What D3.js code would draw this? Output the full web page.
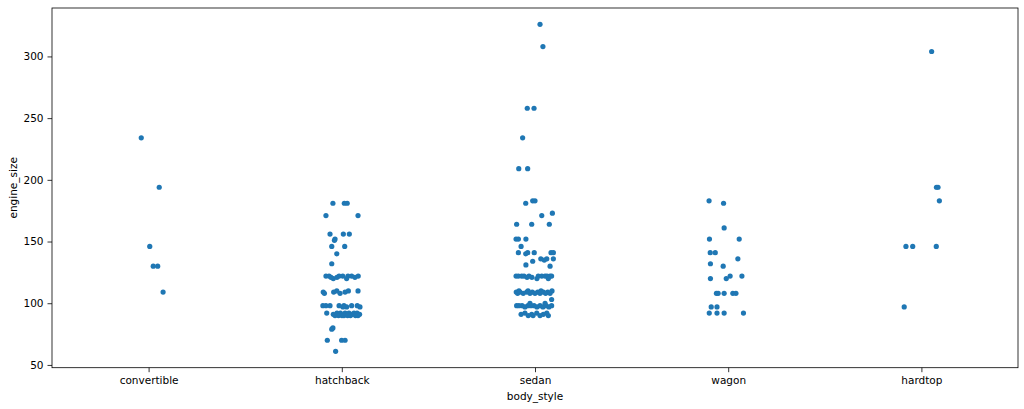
<!DOCTYPE html>
<html>
<head>
<meta charset="utf-8">
<script src="https://cdn.jsdelivr.net/npm/d3@7"></script>
<style>
  html, body { margin: 0; padding: 0; background: #fff; }
  svg { display: block; font-family: "DejaVu Sans", sans-serif; }
</style>
</head>
<body>
<div id="strip-engine"></div>
<script>
// Strip plot – engine_size by body_style (seaborn-like jitter)

const BODY_STYLES = ["convertible", "hatchback", "sedan", "wagon", "hardtop"];
const Y_TICKS = [50, 100, 150, 200, 250, 300];

// engine_size per body style, with the matching jitter (in category units)
const convertibleSize   = [234, 194, 146, 130, 130, 109];
const convertibleJitter = [-0.038, 0.055, 0.006, 0.024, 0.047, 0.075];

const hatchbackSize = [
  181, 181, 181, 171, 171, 156, 156, 156, 152, 151, 146, 146, 140, 132,
  122, 122, 122, 122, 122, 122, 122, 120, 120, 121, 121, 121,
  110, 110, 110, 109, 109, 109, 108, 108,
  98, 98, 98, 98, 98, 98, 98, 97, 97, 97,
  92, 92, 92, 92, 92, 92, 92, 91, 91, 91, 91, 91,
  90, 90, 90, 90, 90, 90, 90, 90,
  80, 79, 70, 70, 70, 61
];
const hatchbackJitter = [
  -0.046, 0.013, 0.028, -0.082, 0.084, -0.061, 0.008, 0.039, -0.035, -0.038, -0.052, 0.015, -0.026, -0.052,
  -0.082, -0.066, -0.014, 0.005, 0.051, 0.085, 0.032, -0.044, 0.025, -0.025, 0.068, -0.056,
  0.034, 0.084, -0.026, -0.042, -0.096, 0.017, -0.090, -0.009,
  -0.098, -0.082, -0.014, 0.051, 0.080, -0.061, 0.011, 0.025, 0.094, 0.006,
  -0.078, -0.025, 0.017, 0.037, 0.063, 0.079, -0.007, -0.044, -0.009, 0.027, 0.053, 0.092,
  -0.035, -0.017, 0.001, 0.011, 0.045, 0.071, 0.084, 0.030,
  -0.046, -0.052, -0.075, -0.001, 0.017, -0.032
];

const sedanSize = [
  326, 308, 258, 258, 234, 209, 209, 183, 183, 181,
  171, 173, 164, 164, 164, 152, 152, 152, 146,
  141, 141, 141, 141, 141, 140, 136, 136, 136, 135, 134, 131, 130,
  122, 122, 122, 122, 122, 122, 122, 122, 122, 122, 122, 120, 120, 121, 121,
  109, 109, 109, 109, 109, 109, 109, 108, 108, 108, 108, 108, 108, 108, 110, 110, 110, 110,
  103,
  98, 98, 98, 98, 98, 98, 98, 98, 98, 97, 97, 97, 97, 100, 100,
  92, 92, 92, 91, 91, 91, 90, 90, 90, 90
];
const sedanJitter = [
  0.026, 0.041, -0.040, -0.005, -0.064, -0.084, -0.038, -0.012, 0.000, -0.048,
  0.035, 0.090, -0.095, -0.017, 0.074, -0.098, -0.086, -0.047, -0.072,
  -0.086, -0.038, -0.004, 0.083, 0.095, -0.048, 0.030, 0.061, 0.095, 0.048, -0.012, -0.047, 0.078,
  -0.098, -0.086, -0.069, -0.031, 0.017, 0.035, 0.052, 0.078, 0.086, -0.057, 0.062, 0.010, 0.069, -0.016, -0.041,
  -0.097, -0.078, -0.043, -0.014, 0.014, 0.043, 0.066, -0.090, -0.061, -0.026, 0.000, 0.026, 0.055, 0.078, -0.083, -0.036, 0.031, 0.088,
  0.086,
  -0.095, -0.067, -0.036, -0.005, 0.026, 0.057, 0.086, -0.083, -0.021, -0.052, 0.010, 0.041, 0.072, -0.026, 0.052,
  -0.052, 0.009, 0.061, -0.017, 0.043, -0.072, -0.035, 0.026, 0.069, -0.010
];

const wagonSize = [
  183, 181, 161, 152, 152, 141, 141, 136, 132, 130, 120, 120, 122, 122,
  108, 108, 108, 108, 108, 97, 97, 92, 92, 92, 92
];
const wagonJitter = [
  -0.099, -0.024, -0.021, -0.097, 0.057, -0.093, -0.067, 0.050, -0.092, -0.026, -0.092, -0.010, 0.010, 0.071,
  -0.061, -0.052, -0.021, 0.024, 0.040, -0.088, -0.058, -0.098, -0.058, -0.021, 0.079
];

const hardtopSize   = [304, 194, 194, 183, 146, 146, 146, 97];
const hardtopJitter = [0.053, 0.078, 0.086, 0.093, -0.080, -0.045, 0.077, -0.089];

const SIZES   = [convertibleSize, hatchbackSize, sedanSize, wagonSize, hardtopSize];
const JITTERS = [convertibleJitter, hatchbackJitter, sedanJitter, wagonJitter, hardtopJitter];

function drawStrip() {
  /* ── Layout ── */
  const totalW = 1024, totalH = 409;
  const plot = { left: 52, right: 1018, top: 8, bottom: 367.7 };

  const svg = d3.select("#strip-engine")
    .append("svg")
    .attr("width", totalW)
    .attr("height", totalH);

  /* ── Scales ── */
  const x = d3.scaleLinear().domain([-0.5, BODY_STYLES.length - 0.5]).range([plot.left, plot.right]);
  const y = d3.scaleLinear().domain([47.75, 339.25]).range([plot.bottom, plot.top]);

  /* ── Points ── */
  const points = [];
  SIZES.forEach((arr, ci) => {
    arr.forEach((v, i) => points.push({ cat: ci, size: v, jitter: JITTERS[ci][i] }));
  });

  svg.append("g")
    .selectAll("circle")
    .data(points)
    .join("circle")
    .attr("cx", d => x(d.cat + d.jitter))
    .attr("cy", d => y(d.size))
    .attr("r", 2.6)
    .attr("fill", "#1f77b4");

  /* ── Axes ── */
  const styleAxis = ax => {
    ax.select(".domain").remove();
    ax.selectAll("line").attr("stroke", "#000").attr("stroke-width", 0.8);
    ax.selectAll("text").attr("font-size", 10.5).attr("fill", "#000")
      .attr("font-family", "DejaVu Sans, sans-serif");
  };

  svg.append("g")
    .attr("transform", `translate(0,${plot.bottom})`)
    .call(d3.axisBottom(x).tickValues(d3.range(BODY_STYLES.length))
      .tickFormat(i => BODY_STYLES[i]).tickSize(4.5).tickPadding(4))
    .call(styleAxis);

  svg.append("g")
    .attr("transform", `translate(${plot.left},0)`)
    .call(d3.axisLeft(y).tickValues(Y_TICKS).tickSize(4.5).tickPadding(4))
    .call(styleAxis);

  /* ── Frame ── */
  svg.append("rect")
    .attr("x", plot.left).attr("y", plot.top)
    .attr("width", plot.right - plot.left).attr("height", plot.bottom - plot.top)
    .attr("fill", "none").attr("stroke", "#000").attr("stroke-width", 0.8);

  /* ── Axis labels ── */
  svg.append("text")
    .attr("x", (plot.left + plot.right) / 2).attr("y", 399.5)
    .attr("text-anchor", "middle").attr("font-size", 10.5).attr("fill", "#000")
    .text("body_style");

  svg.append("text")
    .attr("transform", `translate(17,${(plot.top + plot.bottom) / 2}) rotate(-90)`)
    .attr("text-anchor", "middle").attr("font-size", 10.5).attr("fill", "#000")
    .text("engine_size");
}

drawStrip();
</script>
</body>
</html>
